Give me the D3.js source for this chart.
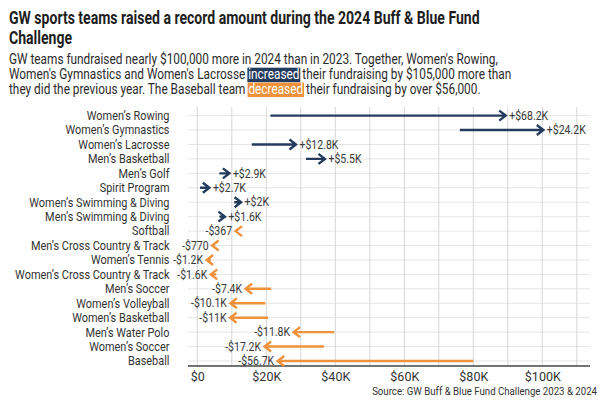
<!DOCTYPE html>
<html>
<head>
<meta charset="utf-8">
<script src="https://cdn.jsdelivr.net/npm/d3@7"></script>
<style>
  body { margin: 0; background: #fff; }
  svg { display: block; font-family: "Liberation Sans Narrow", "Roboto", sans-serif; }
</style>
</head>
<body>
<div id="chart"></div>
<script>
// team names, top to bottom
const categories = [
  "Women’s Rowing", "Women’s Gymnastics", "Women’s Lacrosse", "Men’s Basketball",
  "Men’s Golf", "Spirit Program", "Women’s Swimming & Diving", "Men’s Swimming & Diving",
  "Softball", "Men’s Cross Country & Track", "Women’s Tennis", "Women’s Cross Country & Track",
  "Men’s Soccer", "Women’s Volleyball", "Women’s Basketball", "Men’s Water Polo",
  "Women’s Soccer", "Baseball"
];
// amount raised in 2023 (arrow tail) and 2024 (arrow head), in dollars
const values2023 = [21200, 76100, 15800, 31500, 6400, 800, 10700, 6400, 11500, 5100, 3900, 5500, 21400, 19700, 20500, 39700, 36700, 80000];
const values2024 = [89400, 100300, 28600, 37000, 9300, 3500, 12700, 8000, 11100, 4300, 2700, 3900, 14000, 9600, 9500, 27900, 19500, 23300];
const changeLabels = ["+$68.2K", "+$24.2K", "+$12.8K", "+$5.5K", "+$2.9K", "+$2.7K", "+$2K", "+$1.6K",
  "-$367", "-$770", "-$1.2K", "-$1.6K", "-$7.4K", "-$10.1K", "-$11K", "-$11.8K", "-$17.2K", "-$56.7K"];
const tickValues = [0, 20000, 40000, 60000, 80000, 100000];
const tickLabels = ["$0", "$20K", "$40K", "$60K", "$80K", "$100K"];

const titleLines = ["GW sports teams raised a record amount during the 2024 Buff & Blue Fund", "Challenge"];
const subtitleLines = [
  ["GW teams fundraised nearly $100,000 more in 2024 than in 2023. Together, Women's Rowing,"],
  ["Women's Gymnastics and Women's Lacrosse ", "increased", " their fundraising by $105,000 more than"],
  ["they did the previous year. The Baseball team ", "decreased", " their fundraising by over $56,000."]
];
const sourceText = "Source: GW Buff & Blue Fund Challenge 2023 & 2024";

const NAVY = "#233b5d";
const ORANGE = "#f0923b";
const highlights = { increased: NAVY, decreased: ORANGE };

/**
 * Width of a string at a given size, to squeeze fonts that run too wide.
 */
function measure(svg, str, size, weight) {
  const t = svg.append("text").style("font-size", size + "px").style("font-weight", weight || 400).text(str);
  const w = t.node().getComputedTextLength();
  t.remove();
  return w;
}

/**
 * Title and intro paragraph, with the two highlighted words.
 */
function drawHeader(svg) {
  const titleSize = 17.5;
  const tf = 471 / measure(svg, titleLines[0], titleSize, 700);
  titleLines.forEach((line, i) => {
    svg.append("text")
      .attr("transform", "translate(9," + (24 + i * 19.5) + ") scale(" + tf + ",1)")
      .style("font-size", titleSize + "px")
      .style("font-weight", 700)
      .attr("fill", "#1e1e1e")
      .text(line);
  });

  const subSize = 14.5;
  const sf = 503 / measure(svg, subtitleLines[1].join(""), subSize);
  subtitleLines.forEach((segs, i) => {
    const g = svg.append("g")
      .attr("transform", "translate(9," + (64.3 + i * 14.9) + ") scale(" + sf + ",1)");
    const text = g.append("text").style("font-size", subSize + "px").attr("fill", "#2b2b2b");
    const spans = segs.map(s => text.append("tspan")
      .attr("fill", highlights[s] ? "#fff" : "#2b2b2b")
      .text(s));
    let pos = 0;
    spans.forEach((sp, j) => {
      const w = sp.node().getComputedTextLength();
      if (highlights[segs[j]]) {
        g.insert("rect", "text")
          .attr("x", pos - 1).attr("y", -11.5)
          .attr("width", w + 2).attr("height", 14.5)
          .attr("fill", highlights[segs[j]]);
      }
      pos += w;
    });
  });
}

/**
 * Grid lines behind the arrows.
 */
function drawGrid(svg, x, y) {
  svg.append("g").selectAll("line")
    .data(categories)
    .join("line")
      .attr("x1", 188).attr("x2", 590)
      .attr("y1", d => y(d)).attr("y2", d => y(d))
      .attr("stroke", "#e6e6e6").attr("stroke-width", 1);
  svg.append("g").selectAll("line")
    .data(x.ticks(11))
    .join("line")
      .attr("x1", d => x(d)).attr("x2", d => x(d))
      .attr("y1", 107).attr("y2", 366)
      .attr("stroke", "#d6d6d6").attr("stroke-width", 1);
}

/**
 * Axis along the bottom.
 */
function drawXAxis(svg, x) {
  const ax = svg.append("g")
    .attr("transform", "translate(0,366)")
    .call(d3.axisBottom(x).tickValues(tickValues).tickFormat((d, i) => tickLabels[i]).tickSize(0).tickPadding(6));
  ax.select(".domain").remove();
  ax.selectAll("text")
    .style("font-size", "12.5px")
    .style("font-family", "Roboto, sans-serif")
    .attr("fill", "#333");
  svg.append("line")
    .attr("x1", 188).attr("x2", 590)
    .attr("y1", 366).attr("y2", 366)
    .attr("stroke", "#444").attr("stroke-width", 1.5);
}

/**
 * Team names at the left.
 */
function drawLabels(svg, y) {
  const size = 12.5;
  const f = 154.5 / measure(svg, categories[11], size);
  svg.append("g").selectAll("text")
    .data(categories)
    .join("text")
      .attr("transform", d => "translate(169.5," + y(d) + ") scale(" + f + ",1)")
      .attr("dy", "0.35em")
      .attr("text-anchor", "end")
      .style("font-size", size + "px")
      .attr("fill", "#333")
      .text(d => d);
}

/**
 * One arrow per team from the 2023 value to the 2024 value, plus its change label.
 */
function drawArrows(svg, x, y) {
  const rows = categories.map((c, i) => ({
    name: c, from: values2023[i], to: values2024[i], label: changeLabels[i]
  }));
  const dir = d => (d.to >= d.from ? 1 : -1);

  svg.append("g").selectAll("path")
    .data(rows)
    .join("path")
      .attr("d", d => {
        const yy = y(d.name), tip = x(d.to), k = dir(d);
        return "M" + x(d.from) + "," + yy + "L" + tip + "," + yy +
          "M" + (tip - k * 6.5) + "," + (yy - 5) + "L" + tip + "," + yy + "L" + (tip - k * 6.5) + "," + (yy + 5);
      })
      .attr("fill", "none")
      .attr("stroke", d => (dir(d) > 0 ? NAVY : ORANGE))
      .attr("stroke-width", 2.4)
      .attr("stroke-linejoin", "miter");

  const size = 12;
  const f = 39 / measure(svg, "+$68.2K", size);
  svg.append("g").selectAll("text")
    .data(rows)
    .join("text")
      .attr("transform", d => "translate(" + (x(d.to) + dir(d) * 3.5) + "," + y(d.name) + ") scale(" + f + ",1)")
      .attr("dy", "0.35em")
      .attr("text-anchor", d => (dir(d) > 0 ? "start" : "end"))
      .style("font-size", size + "px")
      .attr("fill", "#3a3a3a")
      .text(d => d.label);
}

function drawSource(svg) {
  const size = 11.5;
  const f = 225 / measure(svg, sourceText, size);
  svg.append("text")
    .attr("transform", "translate(597,394.5) scale(" + f + ",1)")
    .attr("text-anchor", "end")
    .style("font-size", size + "px")
    .attr("fill", "#333")
    .text(sourceText);
}

function drawGraph() {
  const svg = d3.select("#chart").append("svg")
    .attr("width", 609)
    .attr("height", 406);
  const x = d3.scaleLinear().domain([0, 110000]).range([197.3, 576.8]);
  const y = d3.scalePoint().domain(categories).range([115.6, 361]);

  drawHeader(svg);
  drawGrid(svg, x, y);
  drawXAxis(svg, x);
  drawLabels(svg, y);
  drawArrows(svg, x, y);
  drawSource(svg);
}

drawGraph();
</script>
</body>
</html>
